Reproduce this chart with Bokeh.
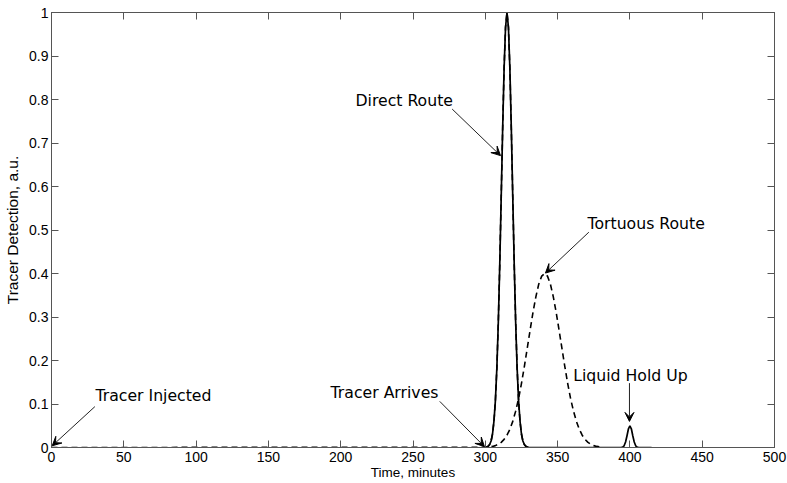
from bokeh.plotting import figure
from bokeh.models import Range1d, LinearAxis, FixedTicker, Arrow, VeeHead, Label
from bokeh.embed import file_html
from bokeh.resources import INLINE

# ---- data ----
x_ticks = [0, 50, 100, 150, 200, 250, 300, 350, 400, 450, 500]
y_ticks = [0, 0.1, 0.2, 0.3, 0.4, 0.5, 0.6, 0.7, 0.8, 0.9, 1]
y_tick_labels = ["0", "0.1", "0.2", "0.3", "0.4", "0.5", "0.6", "0.7", "0.8", "0.9", "1"]

# direct route peak (solid)
direct_x = [300, 301, 302, 303, 304, 305, 306, 307, 308, 309, 310, 311, 312, 313, 314, 315,
            316, 317, 318, 319, 320, 321, 322, 323, 324, 325, 326, 327, 328, 329, 330]
direct_y = [0, 0.001, 0.003, 0.007, 0.015, 0.031, 0.061, 0.109, 0.183, 0.288, 0.421, 0.575,
            0.732, 0.871, 0.966, 1.0, 0.966, 0.871, 0.732, 0.575, 0.421, 0.288, 0.183, 0.109,
            0.061, 0.031, 0.015, 0.007, 0.003, 0.001, 0]

# liquid hold up peak (solid)
holdup_x = [394, 395, 396, 397, 398, 399, 400, 401, 402, 403, 404, 405, 406, 415]
holdup_y = [0, 0.001, 0.004, 0.0125, 0.027, 0.043, 0.05, 0.043, 0.027, 0.0125, 0.004, 0.001, 0, 0]

# tortuous route (dashed), starting at injection time
tortuous_x = [0, 301, 303, 305, 307, 309, 311, 313, 315, 317, 319, 321, 323, 325, 327, 329,
              331, 333, 335, 337, 339, 341, 343, 345, 347, 349, 351, 353, 355, 357, 359, 361,
              363, 365, 367, 369, 371, 373, 375, 377, 379, 381]
tortuous_y = [0, 0.0006, 0.0014, 0.0025, 0.0043, 0.0073, 0.0118, 0.0186, 0.0283, 0.0419,
              0.0601, 0.0836, 0.112, 0.147, 0.186, 0.228, 0.270, 0.311, 0.347, 0.376, 0.394,
              0.400, 0.394, 0.376, 0.347, 0.311, 0.270, 0.228, 0.186, 0.147, 0.112, 0.0836,
              0.0601, 0.0419, 0.0283, 0.0186, 0.0118, 0.0073, 0.0043, 0.0025, 0.0014, 0.0006]

solid_x = direct_x + holdup_x
solid_y = direct_y + holdup_y

# annotations: text, text anchor (x, y), arrow start, arrow tip
annotations = [
    ("Tracer Injected", (30.4, 0.120), (30.0, 0.094), (0.5, 0.004)),
    ("Tracer Arrives", (193.0, 0.127), (268.5, 0.106), (299.4, 0.002)),
    ("Direct Route", (210.2, 0.797), (277.1, 0.778), (310.5, 0.671)),
    ("Tortuous Route", (370.7, 0.514), (371.6, 0.495), (341.6, 0.401)),
    ("Liquid Hold Up", (360.8, 0.166), (399.7, 0.148), (399.7, 0.060)),
]

AX = "#555555"
TICK_FONT = "Liberation Sans"

p = figure(width=787, height=483, x_range=Range1d(0, 500), y_range=Range1d(0, 1),
           output_backend="svg", toolbar_location=None,
           min_border_left=51, min_border_right=13, min_border_top=12, min_border_bottom=36)
p.background_fill_color = "white"
p.border_fill_color = "white"
p.outline_line_color = AX
p.xgrid.visible = False
p.ygrid.visible = False

def style(ax, ticks, show_labels=True):
    ax.ticker = FixedTicker(ticks=ticks)
    ax.axis_line_color = AX
    ax.major_tick_line_color = AX
    ax.major_tick_in = 7
    ax.major_tick_out = 0
    ax.minor_tick_line_color = None
    ax.major_label_text_font = TICK_FONT
    ax.major_label_text_color = "black"
    ax.major_label_text_font_size = "14px"
    if not show_labels:
        ax.major_label_overrides = {t: "" for t in ticks}
        ax.major_label_standoff = 0

style(p.xaxis[0], x_ticks)
p.xaxis[0].major_label_standoff = 4
p.xaxis[0].axis_label = "Time, minutes"
p.xaxis[0].axis_label_text_font = TICK_FONT
p.xaxis[0].axis_label_text_font_size = "13.5px"
p.xaxis[0].axis_label_text_font_style = "normal"
p.xaxis[0].axis_label_text_color = "black"
p.xaxis[0].axis_label_standoff = 0

style(p.yaxis[0], y_ticks)
p.yaxis[0].major_label_standoff = 3
p.yaxis[0].major_label_overrides = {t: s for t, s in zip(y_ticks, y_tick_labels)}
p.yaxis[0].axis_label = "Tracer Detection, a.u."
p.yaxis[0].axis_label_text_font = TICK_FONT
p.yaxis[0].axis_label_text_font_size = "15.5px"
p.yaxis[0].axis_label_text_font_style = "normal"
p.yaxis[0].axis_label_text_color = "black"
p.yaxis[0].axis_label_standoff = 5

top = LinearAxis()
style(top, x_ticks, show_labels=False)
p.add_layout(top, "above")
right = LinearAxis()
style(right, y_ticks, show_labels=False)
p.add_layout(right, "right")

p.line(tortuous_x, tortuous_y, line_color="black", line_width=1.6, line_dash="6 4")
p.line(solid_x, solid_y, line_color="black", line_width=1.7)
p.line(direct_x, direct_y, line_color="black", line_width=1.6, line_dash="6 4")

for text, (tx, ty), (sx, sy), (ex, ey) in annotations:
    p.add_layout(Label(x=tx, y=ty, text=text, text_font="DejaVu Sans",
                       text_font_size="15.7px", text_color="black",
                       text_align="left", text_baseline="alphabetic"))
    p.add_layout(Arrow(x_start=sx, y_start=sy, x_end=ex, y_end=ey,
                       line_color="#222222", line_width=1,
                       end=VeeHead(size=9, fill_color="black", line_color="black",
                                   line_width=1)))

open("out.html", "w").write(file_html(p, INLINE))
